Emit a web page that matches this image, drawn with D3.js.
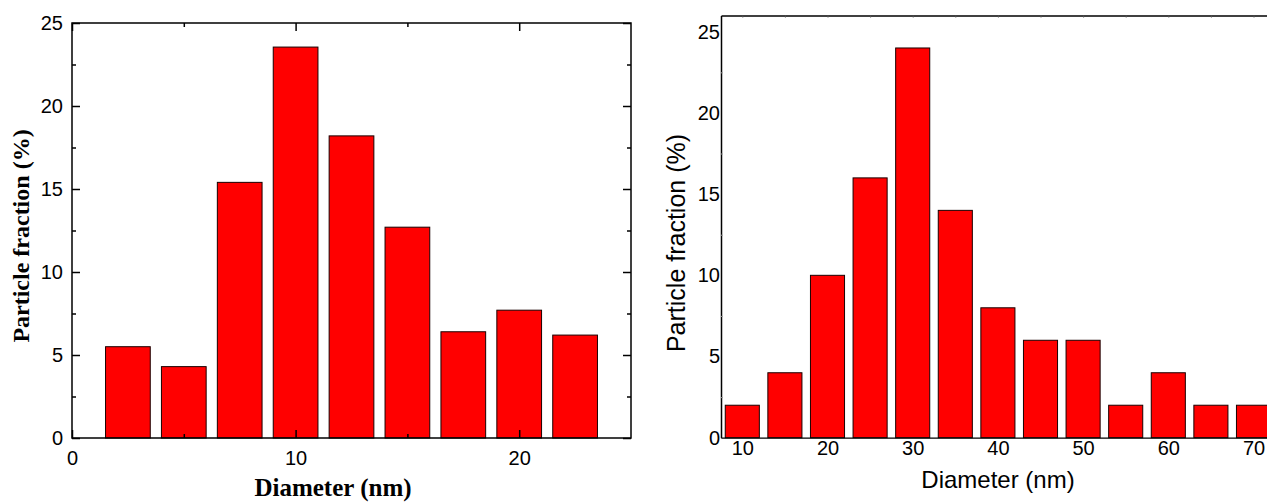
<!DOCTYPE html>
<html>
<head>
<meta charset="utf-8">
<script src="https://cdn.jsdelivr.net/npm/d3@7"></script>
<style>
  html, body { margin: 0; padding: 0; background: #fff; overflow: hidden; }
  svg { display: block; }
</style>
</head>
<body>
<svg id="chart" width="1267" height="502"></svg>
<script>
// left panel: diameter bins (nm) and particle fraction (%)
const leftBins = [2.5, 5, 7.5, 10, 12.5, 15, 17.5, 20, 22.5];
const leftValues = [5.5, 4.3, 15.4, 23.55, 18.2, 12.7, 6.4, 7.7, 6.2];
const leftXTicks = [0, 10, 20];
const leftYTicks = [0, 5, 10, 15, 20, 25];

// right panel
const rightBins = [10, 15, 20, 25, 30, 35, 40, 45, 50, 55, 60, 65, 70];
const rightValues = [2, 4, 10, 16, 24, 14, 8, 6, 6, 2, 4, 2, 2];
const rightXTicks = [10, 20, 30, 40, 50, 60, 70];
const rightYTicks = [0, 5, 10, 15, 20, 25];

const svg = d3.select("#chart");
const sans = "'Liberation Sans', Arial, sans-serif";
const serif = "'Liberation Serif', 'Times New Roman', serif";

// ---------- left chart ----------
{
  const x = d3.scaleLinear().domain([0, 25]).range([72, 631]);
  const y = d3.scaleLinear().domain([0, 25]).range([438, 23]);
  const g = svg.append("g");

  // Bars
  g.selectAll(".barL")
    .data(leftBins.map((b, i) => ({ b, v: leftValues[i] })))
    .enter().append("rect")
    .attr("class", "barL")
    .attr("x", d => x(d.b - 1))
    .attr("width", x(2) - x(0))
    .attr("y", d => y(d.v))
    .attr("height", d => y(0) - y(d.v))
    .attr("fill", "#ff0000")
    .attr("stroke", "#1a0000")
    .attr("stroke-width", 1);

  const tickStyle = sel => {
    sel.select(".domain").remove();
    sel.selectAll("line").attr("stroke", "#000").attr("stroke-width", 1.5);
  };

  // Bottom axis (major with labels, minor without)
  g.append("g").attr("transform", `translate(0,${y(0)})`)
    .call(d3.axisBottom(x).tickValues(leftXTicks).tickSizeInner(-8).tickSizeOuter(0).tickPadding(13))
    .call(tickStyle)
    .selectAll("text").attr("font-family", sans).attr("font-size", 20).attr("fill", "#000");
  g.append("g").attr("transform", `translate(0,${y(0)})`)
    .call(d3.axisBottom(x).tickValues([5, 15]).tickSizeInner(-4).tickSizeOuter(0).tickFormat(""))
    .call(tickStyle);
  // Top axis
  g.append("g").attr("transform", `translate(0,${y(25)})`)
    .call(d3.axisTop(x).tickValues(leftXTicks).tickSizeInner(-8).tickSizeOuter(0).tickFormat(""))
    .call(tickStyle);
  g.append("g").attr("transform", `translate(0,${y(25)})`)
    .call(d3.axisTop(x).tickValues([5, 15]).tickSizeInner(-4).tickSizeOuter(0).tickFormat(""))
    .call(tickStyle);

  // Left axis
  g.append("g").attr("transform", `translate(${x(0)},0)`)
    .call(d3.axisLeft(y).tickValues(leftYTicks).tickSizeInner(-8).tickSizeOuter(0).tickPadding(9))
    .call(tickStyle)
    .selectAll("text").attr("font-family", sans).attr("font-size", 20).attr("fill", "#000");
  g.append("g").attr("transform", `translate(${x(0)},0)`)
    .call(d3.axisLeft(y).tickValues([2.5, 7.5, 12.5, 17.5, 22.5]).tickSizeInner(-4).tickSizeOuter(0).tickFormat(""))
    .call(tickStyle);
  // Right axis
  g.append("g").attr("transform", `translate(${x(25)},0)`)
    .call(d3.axisRight(y).tickValues(leftYTicks).tickSizeInner(-8).tickSizeOuter(0).tickFormat(""))
    .call(tickStyle);
  g.append("g").attr("transform", `translate(${x(25)},0)`)
    .call(d3.axisRight(y).tickValues([2.5, 7.5, 12.5, 17.5, 22.5]).tickSizeInner(-4).tickSizeOuter(0).tickFormat(""))
    .call(tickStyle);

  // Frame
  g.append("rect")
    .attr("x", x(0)).attr("y", y(25))
    .attr("width", x(25) - x(0)).attr("height", y(0) - y(25))
    .attr("fill", "none").attr("stroke", "#000").attr("stroke-width", 1.5);

  // Titles
  g.append("text")
    .attr("x", 333).attr("y", 496)
    .attr("text-anchor", "middle")
    .attr("font-family", serif).attr("font-weight", "bold").attr("font-size", 25)
    .text("Diameter (nm)");
  g.append("text")
    .attr("transform", "translate(29,236) rotate(-90)")
    .attr("text-anchor", "middle")
    .attr("font-family", serif).attr("font-weight", "bold").attr("font-size", 24)
    .text("Particle fraction (%)");
}

// ---------- right chart ----------
{
  const x = d3.scaleLinear().domain([7.5, 72.5]).range([721, 1274.8]);
  const y = d3.scaleLinear().domain([0, 26]).range([437.7, 15.5]);
  const g = svg.append("g");

  g.selectAll(".barR")
    .data(rightBins.map((b, i) => ({ b, v: rightValues[i] })))
    .enter().append("rect")
    .attr("class", "barR")
    .attr("x", d => x(d.b - 2))
    .attr("width", x(11.5) - x(7.5))
    .attr("y", d => y(d.v))
    .attr("height", d => y(0) - y(d.v))
    .attr("fill", "#ff0000")
    .attr("stroke", "#1a0000")
    .attr("stroke-width", 1);

  // Bottom axis: no visible ticks
  const bottom = g.append("g").attr("transform", `translate(0,${y(0)})`)
    .call(d3.axisBottom(x).tickValues(rightXTicks).tickSize(0).tickPadding(3.5));
  bottom.select(".domain").attr("stroke", "#000").attr("stroke-width", 1.2);
  bottom.selectAll("text").attr("font-family", sans).attr("font-size", 20).attr("fill", "#000");

  // Left axis
  const left = g.append("g").attr("transform", `translate(${x(7.5)},0)`)
    .call(d3.axisLeft(y).tickValues(rightYTicks).tickSize(0).tickPadding(1));
  left.select(".domain").attr("stroke", "#000").attr("stroke-width", 1.5);
  left.selectAll("text").attr("font-family", sans).attr("font-size", 20).attr("fill", "#000");
  g.append("g").attr("transform", `translate(${x(7.5)},0)`)
    .call(d3.axisLeft(y).tickValues([2.5, 7.5, 12.5, 17.5, 22.5]).tickSizeInner(-2).tickSizeOuter(0).tickFormat(""))
    .call(s => { s.select(".domain").remove(); s.selectAll("line").attr("stroke", "#999"); });

  // Top line with tiny ticks
  const top = g.append("g").attr("transform", `translate(0,${y(26)})`)
    .call(d3.axisTop(x).tickValues(rightBins).tickSizeInner(-2).tickSizeOuter(0).tickFormat(""));
  top.select(".domain").attr("stroke", "#000").attr("stroke-width", 1.5);
  top.selectAll("line").attr("stroke", "#555");

  g.append("text")
    .attr("x", 998).attr("y", 488)
    .attr("text-anchor", "middle")
    .attr("font-family", sans).attr("font-size", 24)
    .text("Diameter (nm)");
  g.append("text")
    .attr("transform", "translate(685,243) rotate(-90)")
    .attr("text-anchor", "middle")
    .attr("font-family", sans).attr("font-size", 25)
    .text("Particle fraction (%)");
}
</script>
</body>
</html>
